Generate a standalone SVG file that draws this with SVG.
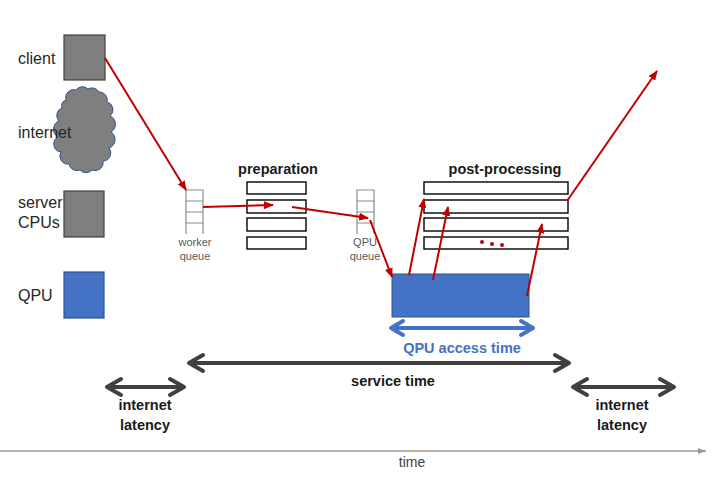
<svg xmlns="http://www.w3.org/2000/svg" width="721" height="491" viewBox="0 0 721 491">
<style>
text{font-family:"Liberation Sans",Arial,sans-serif}
.lbl{font-size:16px;fill:#262626}
.small{font-size:11px;fill:#595959;text-anchor:middle}
.bold{font-size:14.5px;font-weight:bold;fill:#1a1a1a;text-anchor:middle}
.box{fill:#fff;stroke:#000;stroke-width:1.4}
.q{fill:none;stroke:#8c8c8c;stroke-width:1.2}
.red{stroke:#C00000;stroke-width:2;fill:none;marker-end:url(#ra)}
.gray{stroke:#404040;stroke-width:4;fill:none;marker-start:url(#ga);marker-end:url(#ga)}
.blue{stroke:#4472C4;stroke-width:4;fill:none;marker-start:url(#ba);marker-end:url(#ba)}
</style>
<defs>
<marker id="ra" markerUnits="userSpaceOnUse" markerWidth="10" markerHeight="8" viewBox="0 0 10 8" refX="9" refY="4" orient="auto"><path d="M0,0 L10,4 L0,8 z" fill="#C00000"/></marker>
<marker id="ga" markerUnits="userSpaceOnUse" markerWidth="24" markerHeight="24" viewBox="-20 -12 24 24" refX="0" refY="0" orient="auto-start-reverse" overflow="visible"><path d="M-14,-8 L0,0 L-14,8" fill="none" stroke="#404040" stroke-width="4" stroke-linecap="round" stroke-linejoin="round"/></marker>
<marker id="ba" markerUnits="userSpaceOnUse" markerWidth="24" markerHeight="24" viewBox="-20 -12 24 24" refX="0" refY="0" orient="auto-start-reverse" overflow="visible"><path d="M-12,-7 L0,0 L-12,7" fill="none" stroke="#4472C4" stroke-width="4" stroke-linecap="round" stroke-linejoin="round"/></marker>
<marker id="ta" markerUnits="userSpaceOnUse" markerWidth="8" markerHeight="6" viewBox="0 0 8 6" refX="8" refY="3" orient="auto"><path d="M0,0 L8,3 L0,6 z" fill="#999"/></marker>
</defs>

<g id="client">
<rect x="64" y="35" width="41" height="45" fill="#7f7f7f" stroke="#404040" stroke-width="1.2"/>
<text class="lbl" x="18" y="64">client</text>
</g>
<g id="internet">
<path d="M66,100 A8,8 0 0 1 76,90 A8,8 0 0 1 88,89 A8,8 0 0 1 99,92 A8,8 0 0 1 107,102 A8,8 0 0 1 110,116 A9,9 0 0 1 111,132 A9,9 0 0 1 109,148 A8,8 0 0 1 103,161 A8,8 0 0 1 92,170 A8,8 0 0 1 80,170 A8,8 0 0 1 69,164 A8,8 0 0 1 61,152 A8,8 0 0 1 58,137 A9,9 0 0 1 59,121 A8,8 0 0 1 62,108 A6,6 0 0 1 66,100 z" fill="#7f7f7f" stroke="#2F528F" stroke-width="1"/>
<text class="lbl" x="18" y="138">internet</text>
</g>
<g id="server">
<rect x="64" y="191" width="40" height="46" fill="#7f7f7f" stroke="#404040" stroke-width="1.2"/>
<text class="lbl" x="18" y="208">server</text>
<text class="lbl" x="18" y="228">CPUs</text>
</g>
<g id="qpu-legend">
<rect x="64" y="272" width="40" height="46" fill="#4472C4" stroke="#2F528F" stroke-width="1.2"/>
<text class="lbl" x="18" y="301">QPU</text>
</g>

<g id="worker-queue">
<path class="q" d="M186,234 V190 H203 V234 M186,201 H203 M186,212 H203 M186,223 H203"/>
<text class="small" x="195" y="246">worker</text>
<text class="small" x="195" y="260">queue</text>
</g>
<g id="preparation">
<text class="bold" x="278" y="174">preparation</text>
<rect class="box" x="247" y="182" width="59" height="12"/>
<rect class="box" x="247" y="200" width="59" height="13"/>
<rect class="box" x="247" y="218" width="59" height="13"/>
<rect class="box" x="247" y="237" width="59" height="12"/>
</g>
<g id="qpu-queue">
<path class="q" d="M357,234 V190 H374 V234 M357,201 H374 M357,212 H374 M357,223 H374"/>
<text class="small" x="365" y="246">QPU</text>
<text class="small" x="365" y="260">queue</text>
</g>
<g id="post-processing">
<text class="bold" x="505" y="174">post-processing</text>
<rect class="box" x="424" y="182" width="144" height="12"/>
<rect class="box" x="424" y="200" width="144" height="13"/>
<rect class="box" x="424" y="218" width="144" height="13"/>
<rect class="box" x="424" y="237" width="144" height="12"/>
<circle cx="482" cy="242" r="2" fill="#C00000"/>
<circle cx="492" cy="244" r="2" fill="#C00000"/>
<circle cx="502" cy="245" r="2" fill="#C00000"/>
</g>
<g id="qpu">
<rect x="392" y="274" width="137" height="43" fill="#4472C4" stroke="#2F528F" stroke-width="1"/>
</g>

<g id="connectors">
<line class="red" x1="105" y1="58" x2="186" y2="190"/>
<line class="red" x1="203" y1="207" x2="273" y2="205"/>
<line class="red" x1="292" y1="207" x2="368" y2="218"/>
<line class="red" x1="370" y1="220" x2="392" y2="277"/>
<line class="red" x1="409" y1="275" x2="424" y2="199"/>
<line class="red" x1="433" y1="280" x2="448" y2="207"/>
<line class="red" x1="527" y1="296" x2="542" y2="224"/>
<line class="red" x1="567" y1="201" x2="657" y2="71"/>
</g>

<g id="timing">
<line class="blue" x1="391" y1="328" x2="533" y2="328"/>
<text class="bold" x="462" y="353" style="fill:#4472C4">QPU access time</text>
<line class="gray" x1="189" y1="363" x2="569" y2="363"/>
<text class="bold" x="393" y="386">service time</text>
<line class="gray" x1="107" y1="387" x2="184" y2="387"/>
<text class="bold" x="145" y="410">internet</text>
<text class="bold" x="145" y="430">latency</text>
<line class="gray" x1="573" y1="387" x2="674" y2="387"/>
<text class="bold" x="622" y="410">internet</text>
<text class="bold" x="622" y="430">latency</text>
<line x1="0" y1="451" x2="706" y2="451" stroke="#999" stroke-width="1.5" marker-end="url(#ta)"/>
<text x="412" y="467" style="font-size:14px;fill:#404040;text-anchor:middle">time</text>
</g>
</svg>
